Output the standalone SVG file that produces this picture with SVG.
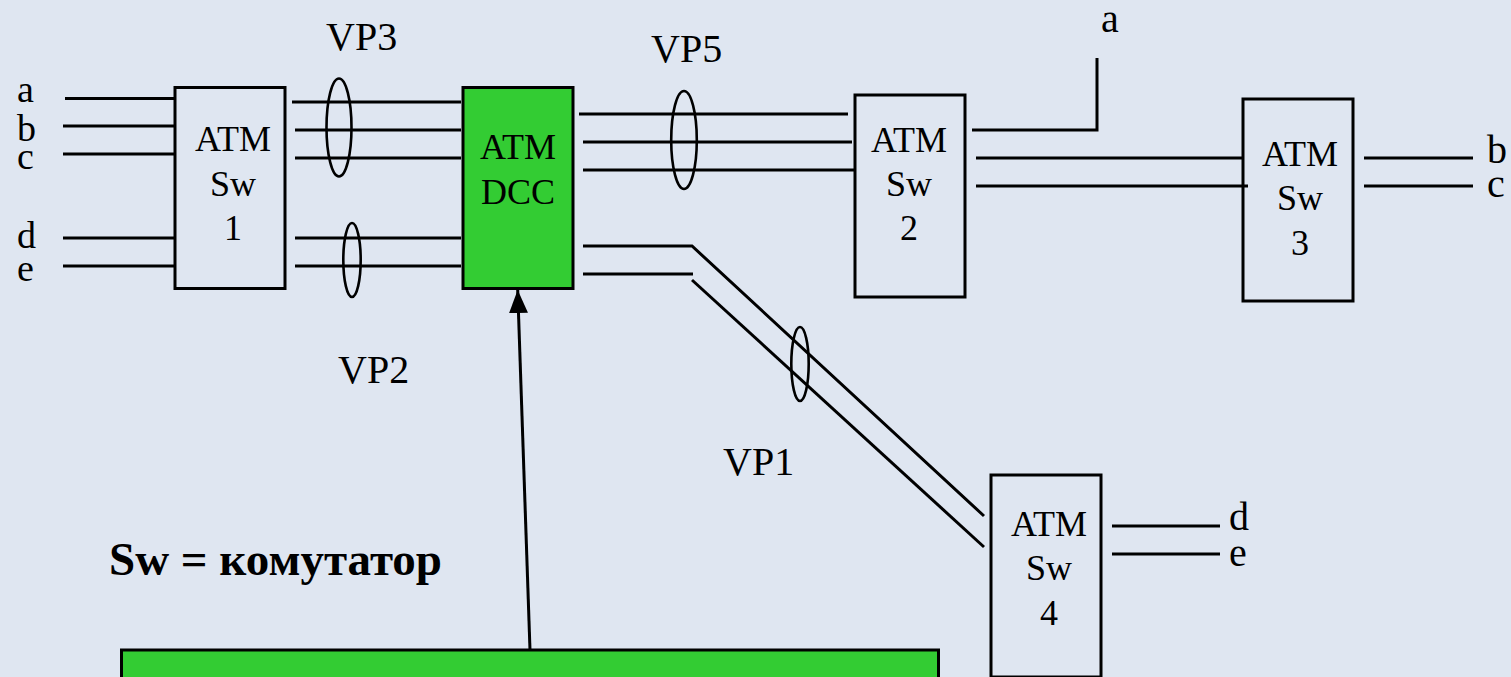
<svg xmlns="http://www.w3.org/2000/svg" width="1511" height="677" viewBox="0 0 1511 677">
<style>
  .bg { fill: #DFE6F1; }
  .box { fill: none; stroke: #000; stroke-width: 3; }
  .gbox { fill: #33CC33; stroke: #000; stroke-width: 3; }
  .ln { fill: none; stroke: #000; stroke-width: 3; }
  .ell { fill: none; stroke: #000; stroke-width: 2.6; }
  .t { font-family: "Liberation Serif", "Times New Roman", serif; fill: #000; }
  .bt { font-size: 36px; text-anchor: middle; }
  .lab { font-size: 38px; }
  .labr { font-size: 40px; }
  .vp { font-size: 40px; }
  .note { font-size: 47px; font-weight: bold; }
</style>
<defs>
  <marker id="arr" markerUnits="userSpaceOnUse" markerWidth="24" markerHeight="20" refX="23" refY="9.5" orient="auto" viewBox="0 0 24 20">
    <path d="M0,0 L23,9.5 L0,19 Z" fill="#000"/>
  </marker>
</defs>
<rect class="bg" x="0" y="0" width="1511" height="677"/>

<g id="connectors">
  <!-- inputs to Sw1 -->
  <line class="ln" x1="65" y1="98.5" x2="175" y2="98.5"/>
  <line class="ln" x1="63" y1="126" x2="175" y2="126"/>
  <line class="ln" x1="63" y1="154" x2="175" y2="154"/>
  <line class="ln" x1="63" y1="238" x2="175" y2="238"/>
  <line class="ln" x1="63" y1="266" x2="175" y2="266"/>
  <!-- Sw1 to DCC -->
  <line class="ln" x1="292" y1="102" x2="461" y2="102"/>
  <line class="ln" x1="295" y1="130" x2="461" y2="130"/>
  <line class="ln" x1="295" y1="158" x2="461" y2="158"/>
  <line class="ln" x1="295" y1="238" x2="461" y2="238"/>
  <line class="ln" x1="295" y1="266" x2="461" y2="266"/>
  <!-- DCC to Sw2 -->
  <line class="ln" x1="579" y1="114" x2="848" y2="114"/>
  <line class="ln" x1="583" y1="142" x2="852" y2="142"/>
  <line class="ln" x1="583" y1="170" x2="856" y2="170"/>
  <!-- DCC to Sw4 -->
  <polyline class="ln" points="583,246 692,246 984,516"/>
  <line class="ln" x1="583" y1="274" x2="693" y2="274"/>
  <line class="ln" x1="692" y1="280" x2="984" y2="547"/>
  <!-- Sw2 outputs -->
  <polyline class="ln" points="972,130 1097,130 1097,58"/>
  <line class="ln" x1="976" y1="158" x2="1244" y2="158"/>
  <line class="ln" x1="976" y1="186" x2="1248" y2="186"/>
  <!-- Sw3 outputs -->
  <line class="ln" x1="1364" y1="158" x2="1473" y2="158"/>
  <line class="ln" x1="1364" y1="186" x2="1473" y2="186"/>
  <!-- Sw4 outputs -->
  <line class="ln" x1="1112" y1="526" x2="1220" y2="526"/>
  <line class="ln" x1="1112" y1="554" x2="1220" y2="554"/>
  <!-- control arrow -->
  <line class="ln" x1="530" y1="650" x2="517.7" y2="290" marker-end="url(#arr)"/>
  <!-- VP ellipses -->
  <ellipse class="ell" cx="339" cy="127.5" rx="12.5" ry="49"/>
  <ellipse class="ell" cx="352" cy="260" rx="8.7" ry="37"/>
  <ellipse class="ell" cx="684" cy="140" rx="12.8" ry="49"/>
  <ellipse class="ell" cx="800" cy="364" rx="8.7" ry="37"/>
</g>

<g id="sw1">
  <rect class="box" x="175" y="87.5" width="110" height="201"/>
  <text class="t bt" x="233" y="151">ATM</text>
  <text class="t bt" x="233" y="196">Sw</text>
  <text class="t bt" x="233" y="240">1</text>
</g>
<g id="dcc">
  <rect class="gbox" x="463" y="87.5" width="110" height="201"/>
  <text class="t bt" x="518" y="159">ATM</text>
  <text class="t bt" x="518" y="204">DCC</text>
</g>
<g id="sw2">
  <rect class="box" x="855" y="95" width="110" height="202"/>
  <text class="t bt" x="909" y="152">ATM</text>
  <text class="t bt" x="909" y="196">Sw</text>
  <text class="t bt" x="909" y="240">2</text>
</g>
<g id="sw3">
  <rect class="box" x="1243" y="99" width="110" height="202"/>
  <text class="t bt" x="1300" y="166">ATM</text>
  <text class="t bt" x="1300" y="210">Sw</text>
  <text class="t bt" x="1300" y="255">3</text>
</g>
<g id="sw4">
  <rect class="box" x="991" y="475" width="110" height="202"/>
  <text class="t bt" x="1049" y="536">ATM</text>
  <text class="t bt" x="1049" y="580">Sw</text>
  <text class="t bt" x="1049" y="625">4</text>
</g>
<g id="control-box">
  <rect class="gbox" x="121.5" y="650" width="817" height="60"/>
</g>

<g id="labels">
  <text class="t lab" x="17" y="102">a</text>
  <text class="t lab" x="17" y="141">b</text>
  <text class="t lab" x="17" y="169">c</text>
  <text class="t lab" x="17" y="248">d</text>
  <text class="t lab" x="17" y="281">e</text>
  <text class="t labr" x="1101" y="32">a</text>
  <text class="t labr" x="1487" y="163">b</text>
  <text class="t labr" x="1487" y="197">c</text>
  <text class="t labr" x="1229" y="530">d</text>
  <text class="t labr" x="1229" y="566">e</text>
  <text class="t vp" x="326" y="50">VP3</text>
  <text class="t vp" x="651" y="62">VP5</text>
  <text class="t vp" x="338" y="383">VP2</text>
  <text class="t vp" x="723" y="475">VP1</text>
  <text class="t note" x="109" y="575">Sw = комутатор</text>
</g>
</svg>
